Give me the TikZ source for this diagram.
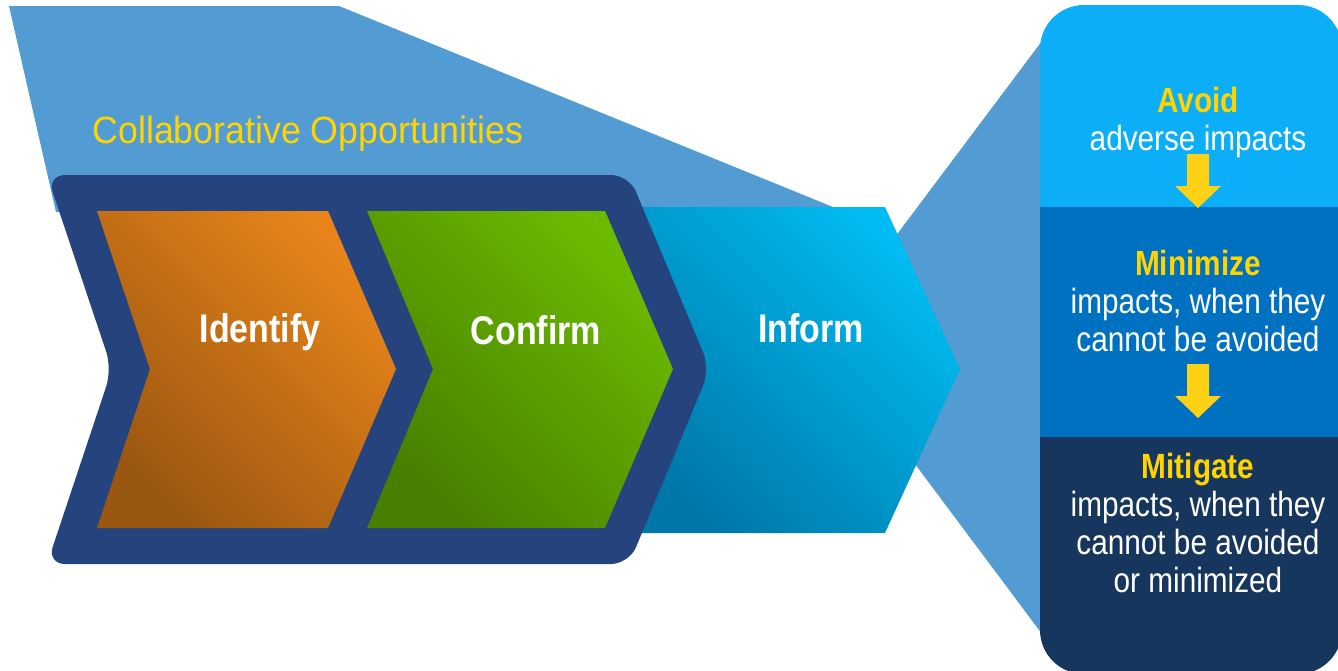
\documentclass[tikz,border=0pt]{standalone}
\usepackage{fontspec}
\newfontfamily\narrowfont[FakeStretch=0.85]{Liberation Sans}
\newfontfamily\collabfont[FakeStretch=0.94]{Liberation Sans}
\usetikzlibrary{positioning}
\definecolor{bgblue}{HTML}{529CD3}
\definecolor{navy}{HTML}{25447D}
\definecolor{orangelight}{HTML}{E8841A}
\definecolor{orangedark}{HTML}{9A5711}
\definecolor{greenlight}{HTML}{6CBA00}
\definecolor{greendark}{HTML}{478000}
\definecolor{informlight}{HTML}{00BCF2}
\definecolor{informdark}{HTML}{0077A8}
\definecolor{avoidblue}{HTML}{0BAEF7}
\definecolor{minblue}{HTML}{0070C0}
\definecolor{mitblue}{HTML}{17365D}
\definecolor{textyellow}{HTML}{FFD400}
\definecolor{arrowyellow}{HTML}{FCD116}

\begin{document}
\begin{tikzpicture}[x=0.5pt,y=-0.5pt]
		\tikzstyle{Title} = [text=textyellow, anchor=base, inner sep=0pt, font=\collabfont\fontsize{19}{22}\selectfont]
		\tikzstyle{StepLabel} = [text=white, anchor=base, inner sep=0pt, font=\narrowfont\bfseries\fontsize{20}{24}\selectfont]
		\tikzstyle{Panel} = [text=white, anchor=north, inner sep=0pt, align=center, font=\narrowfont\fontsize{17.5}{19}\selectfont]
		\tikzstyle{Head} = [text=textyellow, font=\bfseries]
		\tikzstyle{Arrow} = [fill=arrowyellow]
		
		\useasboundingbox (0,0) rectangle (1338,670);
		\clip (0,0) rectangle (1338,670);
		
		\fill [bgblue] (9,6) -- (339,6) -- (833,207) -- (833,212) -- (56,212) -- cycle;
		\fill [bgblue] (820,337) -- (1060,17) -- (1060,658) -- cycle;
		
		\shade [top color=informlight, bottom color=informdark, shading angle=-45] (620,207) -- (885,207) -- (960,369) -- (885,533) -- (620,533) -- cycle;
		
		\fill [navy, rounded corners=9pt] (47,175) -- (629,175) -- (710,369) -- (629,564) -- (47,564) -- (112,369) -- cycle;
		\shade [top color=orangelight, bottom color=orangedark, shading angle=-45] (97,211) -- (328,211) -- (396,369) -- (328,528) -- (97,528) -- (150,369) -- cycle;
		\shade [top color=greenlight, bottom color=greendark, shading angle=-45] (367,211) -- (605,211) -- (673,369) -- (605,528) -- (367,528) -- (433,369) -- cycle;
		
		\node (collab) [Title] at (308,143) {Collaborative Opportunities};
		\node (identify) [StepLabel] at (260,342) {Identify};
		\node (confirm) [StepLabel] at (536,344) {Confirm};
		\node (inform) [StepLabel] at (811,342) {Inform};
		
		\begin{scope}
		\clip [rounded corners=22pt] (1040,5) rectangle (1342,674);
		\fill [avoidblue] (1040,5) rectangle (1342,207);
		\fill [minblue] (1040,207) rectangle (1342,437);
		\fill [mitblue] (1040,437) rectangle (1342,674);
		\end{scope}
		
		\coordinate (tip1) at (1198,208);
		\coordinate (tip2) at (1198,418);
		\foreach \t in {tip1,tip2}
		\fill [Arrow, shift={(\t)}] (-11,-54) -- (11,-54) -- (11,-22) -- (23,-22) -- (0,0) -- (-23,-22) -- (-11,-22) -- cycle;
		
		\node (avoid) [Panel] at (1198,87) {{\color{textyellow}\bfseries Avoid}\\adverse impacts};
		\node (minimize) [Panel] at (1198,250) {{\color{textyellow}\bfseries Minimize}\\impacts, when they\\cannot be avoided};
		\node (mitigate) [Panel] at (1198,453) {{\color{textyellow}\bfseries Mitigate}\\impacts, when they\\cannot be avoided\\or minimized};
\end{tikzpicture}
\end{document}
